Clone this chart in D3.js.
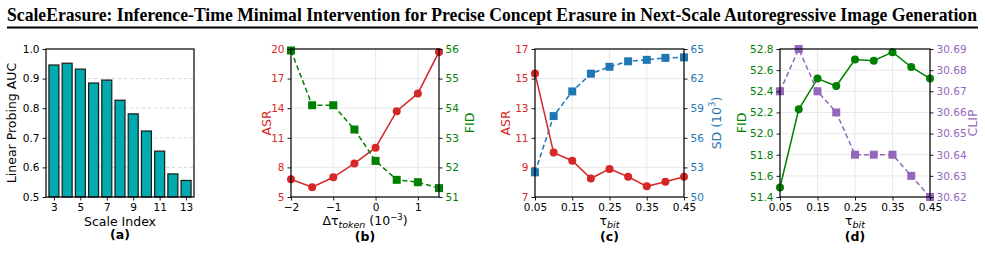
<!doctype html>
<html>
<head>
<meta charset="utf-8">
<script src="https://d3js.org/d3.v7.min.js"></script>
<style>
body { margin:0; background:#fff; }
svg text { font-family: 'DejaVu Sans', sans-serif; }
</style>
</head>
<body>
<div id="chart"></div>
<script>
// (a) linear probing
var scaleIdx = [3,4,5,6,7,8,9,10,11,12,13];
var aucVals  = [0.946,0.952,0.932,0.885,0.895,0.827,0.781,0.723,0.655,0.578,0.556];

// (b) delta tau token
var dTau   = [-2,-1.5,-1,-0.5,0,0.5,1,1.5];
var asrB   = [6.8,6.0,7.0,8.4,10.0,13.7,15.5,19.7];
var fidB   = [55.95,54.1,54.1,53.28,52.22,51.58,51.5,51.3];

// (c) tau bit
var tauBit = [0.05,0.1,0.15,0.2,0.25,0.3,0.35,0.4,0.45];
var asrC   = [15.35,10.0,9.45,8.25,8.9,8.37,7.72,8.03,8.37];
var sdC    = [52.5,58.2,60.7,62.5,63.2,63.75,63.9,64.1,64.15];

// (d) tau bit
var fidD   = [51.49,52.23,52.52,52.45,52.70,52.69,52.77,52.63,52.52];
var clipD  = [30.67,30.69,30.67,30.66,30.64,30.64,30.64,30.63,30.62];

var W = 985, H = 261, yTop = 49, yBot = 197;
var RED = "#d62728", GREEN = "#008000", BLUE = "#1f77b4", PURPLE = "#9467bd";

var svg = d3.select("#chart").append("svg").attr("width",W).attr("height",H);

// title
svg.append("text").attr("x",7).attr("y",21)
  .attr("textLength",970).attr("lengthAdjust","spacingAndGlyphs")
  .style("font-family","'Liberation Serif', serif").style("font-weight","bold").style("font-size","19px")
  .text("ScaleErasure: Inference-Time Minimal Intervention for Precise Concept Erasure in Next-Scale Autoregressive Image Generation");
svg.append("line").attr("x1",7).attr("x2",978).attr("y1",27.5).attr("y2",27.5).attr("stroke","#000").attr("stroke-width",2);

function styleAxis(g, col){
  g.selectAll(".domain").remove();
  g.selectAll(".tick line").attr("stroke","#000").attr("stroke-width",0.9);
  g.selectAll(".tick text").attr("fill",col).style("font-size","10.5px");
}

function frame(x0,x1){
  svg.append("rect").attr("x",x0).attr("y",yTop).attr("width",x1-x0).attr("height",yBot-yTop)
    .attr("fill","none").attr("stroke","#000").attr("stroke-width",1.2);
}

function ylabel(x, txt, col){
  svg.append("text").attr("transform","translate("+x+","+((yTop+yBot)/2)+") rotate(-90)")
    .attr("text-anchor","middle").attr("dominant-baseline","middle").attr("fill",col)
    .style("font-size","12.5px").text(txt);
}

function xlabel(cx, build, tag, ly, ty){
  var t = svg.append("text").attr("x",cx).attr("y",ly).attr("text-anchor","middle").style("font-size","12.5px");
  build(t);
  svg.append("text").attr("x",cx).attr("y",ty).attr("text-anchor","middle")
    .style("font-size","12.5px").style("font-weight","bold").text(tag);
}

function tauLabel(t, sub){
  t.append("tspan").text("τ");
  t.append("tspan").attr("dy",3).style("font-style","italic").style("font-size","9.5px").text(sub);
}

// ---------- (a) ----------
(function(){
  var x0 = 46, x1 = 194;
  var x = d3.scaleLinear().domain([2.4,13.6]).range([x0,x1]);
  var y = d3.scaleLinear().domain([0.5,1.0]).range([yBot,yTop]);
  svg.append("g").selectAll("line").data([0.6,0.7,0.8,0.9]).enter().append("line")
    .attr("x1",x0).attr("x2",x1).attr("y1",y).attr("y2",y)
    .attr("stroke","#cccccc").attr("stroke-dasharray","3,3").attr("stroke-width",0.8);
  svg.append("g").selectAll("rect").data(scaleIdx).enter().append("rect")
    .attr("x",function(d){return x(d)-5;}).attr("width",10)
    .attr("y",function(d,i){return y(aucVals[i]);})
    .attr("height",function(d,i){return yBot-y(aucVals[i]);})
    .attr("fill","#00aaae").attr("stroke","#1a1a1a").attr("stroke-width",1.2);
  frame(x0,x1);
  var gx = svg.append("g").attr("transform","translate(0,"+yBot+")")
    .call(d3.axisBottom(x).tickValues([3,5,7,9,11,13]).tickSize(3.5).tickPadding(3));
  styleAxis(gx,"#000");
  var gy = svg.append("g").attr("transform","translate("+x0+",0)")
    .call(d3.axisLeft(y).tickValues([0.5,0.6,0.7,0.8,0.9,1.0]).tickFormat(d3.format(".1f")).tickSize(3.5).tickPadding(3));
  styleAxis(gy,"#000");
  ylabel(12,"Linear Probing AUC","#000");
  xlabel((x0+x1)/2,function(t){t.text("Scale Index");},"(a)",226,239);
})();

// generic dual-axis line panel
function dualPanel(o){
  var x = d3.scaleLinear().domain(o.xdom).range([o.x0,o.x1]);
  var yl = d3.scaleLinear().domain(o.ldom).range([yBot,yTop]);
  var yr = d3.scaleLinear().domain(o.rdom).range([yBot,yTop]);
  var grid = svg.append("g");
  grid.selectAll(".vx").data(o.xticks).enter().append("line")
    .attr("x1",x).attr("x2",x).attr("y1",yTop).attr("y2",yBot)
    .attr("stroke","#e6e6e6").attr("stroke-width",0.9);
  grid.selectAll(".hy").data(o.lticks).enter().append("line")
    .attr("x1",o.x0).attr("x2",o.x1).attr("y1",yl).attr("y2",yl)
    .attr("stroke","#e6e6e6").attr("stroke-width",0.9);

  function series(xs, ys, ysc, col, dash, shape){
    var pts = xs.map(function(d,i){return [x(d), ysc(ys[i])];});
    svg.append("path").attr("d",d3.line()(pts)).attr("fill","none")
      .attr("stroke",col).attr("stroke-width",1.5).attr("stroke-dasharray",dash);
    if(shape==="circle"){
      svg.append("g").selectAll("circle").data(pts).enter().append("circle")
        .attr("cx",function(p){return p[0];}).attr("cy",function(p){return p[1];}).attr("r",4).attr("fill",col);
    } else {
      svg.append("g").selectAll("rect").data(pts).enter().append("rect")
        .attr("x",function(p){return p[0]-4;}).attr("y",function(p){return p[1]-4;})
        .attr("width",8).attr("height",8).attr("fill",col);
    }
  }
  o.draw(series, x, yl, yr);
  frame(o.x0,o.x1);
  var gx = svg.append("g").attr("transform","translate(0,"+yBot+")")
    .call(d3.axisBottom(x).tickValues(o.xticks).tickFormat(o.xfmt).tickSize(3.5).tickPadding(3));
  styleAxis(gx,"#000");
  var gl = svg.append("g").attr("transform","translate("+o.x0+",0)")
    .call(d3.axisLeft(yl).tickValues(o.lticks).tickFormat(o.lfmt).tickSize(3.5).tickPadding(3));
  styleAxis(gl,o.lcol);
  var gr = svg.append("g").attr("transform","translate("+o.x1+",0)")
    .call(d3.axisRight(yr).tickValues(o.rticks).tickFormat(o.rfmt).tickSize(3.5).tickPadding(3));
  styleAxis(gr,o.rcol);
  ylabel(o.llx,o.ltxt,o.lcol);
  if(o.rtxt) ylabel(o.rlx,o.rtxt,o.rcol);
  xlabel((o.x0+o.x1)/2,o.xlab,o.tag,225,241);
}

var minusFmt = function(d){ return d < 0 ? "\u2212"+Math.abs(d) : String(d); };

// ---------- (b) ----------
dualPanel({
  x0:291, x1:439, xdom:[-2,1.5], ldom:[5,20], rdom:[51,56],
  xticks:[-2,-1,0,1], lticks:[5,8,11,14,17,20], rticks:[51,52,53,54,55,56],
  xfmt:minusFmt, lfmt:d3.format("d"), rfmt:d3.format("d"),
  lcol:RED, rcol:GREEN, ltxt:"ASR", rtxt:"FID", llx:267, rlx:470, tag:"(b)",
  xlab:function(t){
    t.append("tspan").text("Δτ");
    t.append("tspan").attr("dy",3).style("font-style","italic").style("font-size","9.5px").text("token");
    t.append("tspan").attr("dy",-3).text(" (10");
    t.append("tspan").attr("dy",-5).style("font-size","8.5px").text("\u22123");
    t.append("tspan").attr("dy",5).text(")");
  },
  draw:function(series,x,yl,yr){
    series(dTau,asrB,yl,RED,null,"circle");
    series(dTau,fidB,yr,GREEN,"5,3","square");
  }
});

// ---------- (c) ----------
dualPanel({
  x0:535, x1:684, xdom:[0.05,0.45], ldom:[7,17], rdom:[50,65],
  xticks:[0.05,0.15,0.25,0.35,0.45], lticks:[7,9,11,13,15,17], rticks:[50,53,56,59,62,65],
  xfmt:d3.format(".2f"), lfmt:d3.format("d"), rfmt:d3.format("d"),
  lcol:RED, rcol:BLUE, ltxt:"ASR", rtxt:"", llx:506, rlx:717, tag:"(c)",
  xlab:function(t){ tauLabel(t,"bit"); },
  draw:function(series,x,yl,yr){
    series(tauBit,sdC,yr,BLUE,"5,3","square");
    series(tauBit,asrC,yl,RED,null,"circle");
  }
});
// SD (10^3) label with superscript
(function(){
  var t = svg.append("text").attr("transform","translate(717,"+((yTop+yBot)/2)+") rotate(-90)")
    .attr("text-anchor","middle").attr("dominant-baseline","middle").attr("fill",BLUE).style("font-size","12.5px");
  t.append("tspan").text("SD (10");
  t.append("tspan").attr("dy",-5).style("font-size","8.5px").text("3");
  t.append("tspan").attr("dy",5).text(")");
})();

// ---------- (d) ----------
dualPanel({
  x0:780, x1:930, xdom:[0.05,0.45], ldom:[51.4,52.8], rdom:[30.62,30.69],
  xticks:[0.05,0.15,0.25,0.35,0.45], lticks:[51.4,51.6,51.8,52.0,52.2,52.4,52.6,52.8],
  rticks:[30.62,30.63,30.64,30.65,30.66,30.67,30.68,30.69],
  xfmt:d3.format(".2f"), lfmt:d3.format(".1f"), rfmt:d3.format(".2f"),
  lcol:GREEN, rcol:PURPLE, ltxt:"FID", rtxt:"CLIP", llx:742, rlx:973, tag:"(d)",
  xlab:function(t){ tauLabel(t,"bit"); },
  draw:function(series,x,yl,yr){
    series(tauBit,fidD,yl,GREEN,null,"circle");
    series(tauBit,clipD,yr,PURPLE,"5,3","square");
  }
});
</script>
</body>
</html>
